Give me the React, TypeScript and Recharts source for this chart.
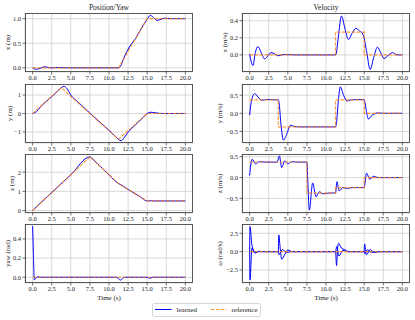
import React from 'react'
import { LineChart, Line, XAxis, YAxis, CartesianGrid } from 'recharts'

// time ticks shared by every panel
const TIME_TICKS = [0, 2.5, 5, 7.5, 10, 12.5, 15, 17.5, 20]

// reference trajectory (position / yaw)
const refPxT = [0, 11.25, 15, 20]
const refPx = [0, 0, 1, 1]
const refPyT = [0, 3.75, 11.25, 15, 20]
const refPy = [0, 1.4, -1.4, 0, 0]
const refPzT = [0, 7.5, 11.25, 15, 20]
const refPz = [0, 2.8, 1.4, 0.5, 0.5]
const refYawT = [0, 20]
const refYaw = [0, 0]

// reference velocity (steps)
const refVxT = [0, 11.25, 11.25, 15, 15, 20]
const refVx = [0, 0, 0.267, 0.267, 0, 0]
const refVyT = [0, 3.75, 3.75, 11.25, 11.25, 15, 15, 20]
const refVy = [0.373, 0.373, -0.373, -0.373, 0.373, 0.373, 0, 0]
const refVzT = [0, 7.5, 7.5, 11.25, 11.25, 15, 15, 20]
const refVz = [0.373, 0.373, -0.373, -0.373, -0.24, -0.24, 0, 0]
const refWT = [0, 20]
const refW = [0, 0]

// learned trajectory
const lPxT = [0, 0.5, 1, 1.5, 2, 2.5, 3, 5, 8, 11.25, 11.5, 12, 12.5, 13, 13.5, 14, 14.5, 15, 15.4, 15.8, 16.3, 16.8, 17.3, 18, 19, 20]
const lPx = [0, -0.03, -0.01, 0.02, 0.01, 0, 0.005, 0, 0, 0, 0.03, 0.22, 0.38, 0.5, 0.6, 0.74, 0.87, 0.99, 1.065, 1.03, 0.965, 0.985, 1.01, 1.0, 1.0, 1.0]
const lPyT = [0, 0.5, 1, 2, 3, 3.75, 4.1, 4.5, 5, 6, 7.5, 9, 10.5, 11.25, 11.6, 12, 12.5, 13.5, 14.5, 15, 15.5, 16, 17, 20]
const lPy = [0, 0.1, 0.35, 0.73, 1.1, 1.4, 1.47, 1.35, 1.0, 0.6, 0.02, -0.54, -1.1, -1.4, -1.48, -1.3, -1.02, -0.6, -0.2, 0.0, 0.07, 0.04, 0, 0]
const lPzT = [0, 1, 2.5, 4, 5, 7.5, 7.8, 8.5, 9.5, 11.25, 11.5, 12.5, 14, 15, 15.4, 16, 20]
const lPz = [0, 0.38, 0.94, 1.5, 1.87, 2.8, 2.72, 2.44, 2.06, 1.41, 1.36, 1.1, 0.74, 0.5, 0.51, 0.5, 0.5]
const lYawT = [0, 0.1, 0.22, 0.4, 0.7, 1, 11, 11.5, 12, 15, 15.3, 15.7, 20]
const lYaw = [0.534, 0.25, -0.028, -0.01, 0.005, 0, 0, -0.03, 0, 0, -0.012, 0, 0]

const lVxT = [0, 0.43, 0.75, 1.08, 1.5, 1.96, 2.4, 2.8, 3.3, 3.7, 4.5, 6, 11.25, 11.35, 11.6, 12.03, 12.5, 12.95, 13.4, 13.9, 14.4, 14.85, 15.3, 15.78, 16.25, 16.73, 17.2, 17.6, 18.1, 18.7, 19.3, 20]
const lVx = [0.01, -0.125, 0.03, 0.097, 0.03, -0.047, -0.01, 0.027, 0.01, -0.01, 0.005, 0, 0, 0.02, 0.2, 0.455, 0.3, 0.18, 0.25, 0.31, 0.28, 0.24, 0.05, -0.17, -0.03, 0.09, 0.02, -0.043, -0.01, 0.027, 0, 0]
const lVyT = [0, 0.2, 0.65, 1.1, 1.6, 2.3, 3, 3.75, 3.85, 4.1, 4.43, 4.9, 5.35, 5.8, 6.5, 11.25, 11.35, 11.6, 11.87, 12.3, 12.74, 13.2, 14, 15, 15.1, 15.3, 15.56, 15.9, 16.3, 16.7, 17.5, 20]
const lVy = [-0.05, 0.3, 0.545, 0.45, 0.36, 0.385, 0.375, 0.375, 0.3, -0.3, -0.74, -0.55, -0.33, -0.36, -0.375, -0.375, -0.3, 0.3, 0.73, 0.5, 0.34, 0.37, 0.38, 0.375, 0.3, 0.05, -0.16, -0.08, -0.02, 0.01, 0, 0]
const lVzT = [0, 0.15, 0.35, 0.74, 1.3, 2, 3.6, 3.9, 4.2, 4.6, 5, 5.5, 6.5, 7.5, 7.6, 7.82, 8.25, 8.7, 9.13, 9.6, 10.5, 11.25, 11.43, 11.73, 12.2, 12.7, 13.5, 15, 15.3, 15.75, 16.2, 16.8, 17.5, 20]
const lVz = [0.05, 0.3, 0.44, 0.33, 0.38, 0.37, 0.37, 0.52, 0.24, 0.4, 0.33, 0.38, 0.37, 0.37, 0.0, -0.78, -0.13, -0.46, -0.34, -0.39, -0.37, -0.37, -0.1, -0.32, -0.24, -0.26, -0.24, -0.24, 0.105, -0.04, 0.03, 0, 0, 0]
const lWaT = [0, 0.05, 0.3, 0.7, 1.2, 2, 3.75, 3.82, 4.0, 4.2, 4.6, 5.0, 5.6, 11.25, 11.38, 11.5, 11.65, 12.0, 12.4, 13, 15, 15.05, 15.3, 15.8, 16.3, 17, 20]
const lWa = [0, 3.41, 0.91, -0.2, 0.05, 0, 0, 2.28, 0.5, -1.04, -0.4, 0.23, 0, 0, -1.9, 0.2, 1.15, 0.5, 0.3, 0, 0, 1.05, -0.45, 0.3, -0.1, 0, 0]
const lWbT = [0, 0.05, 0.3, 0.7, 1.2, 3.75, 3.85, 4.3, 4.8, 5.5, 11.25, 11.4, 11.7, 12.2, 12.8, 15, 15.1, 15.4, 16, 16.6, 20]
const lWb = [0, -3.86, 0.5, -0.1, 0, 0, -0.4, 0.3, -0.1, 0, 0, 0.7, -0.6, 0.2, 0, 0, -0.3, 0.25, -0.1, 0, 0]

const FONT = '"Liberation Serif", "DejaVu Serif", serif'
const BOX_W = 168
const BOX_H = 59
const YW = 24
const XH = 12
const COL_X = [25, 242]
const ROW_Y = [13, 84, 154, 224]

const pts = (t: number[], v: number[]) => t.map((x, i) => ({ t: x, v: v[i] }))
const minus = (s: string) => s.replace('-', '\u2212')
const f1 = (v: number) => minus(v.toFixed(1))
const f0 = (v: number) => minus(v.toFixed(0))

type PanelProps = {
  x: number
  y: number
  domain: [number, number]
  ticks: number[]
  fmt: (v: number) => string
  learned: { t: number; v: number }[][]
  ref: { t: number; v: number }[]
}

function Panel({ x, y, domain, ticks, fmt, learned, ref }: PanelProps) {
  const tickStyle = { fontSize: 6.5, fill: '#222', fontFamily: FONT }
  return (
    <div style={{ position: 'absolute', left: x - YW, top: y }}>
      <LineChart width={BOX_W + YW} height={BOX_H + XH} margin={{ top: 0, right: 0, bottom: 0, left: 0 }}>
        <CartesianGrid stroke="#cfcfcf" strokeWidth={0.8} />
        <XAxis
          type="number"
          dataKey="t"
          domain={[-1, 21]}
          ticks={TIME_TICKS}
          interval={0}
          tickFormatter={f1}
          height={XH}
          tick={tickStyle}
          tickSize={2.5}
          tickMargin={1}
          axisLine={false}
          tickLine={{ stroke: '#333', strokeWidth: 0.7 }}
          allowDataOverflow
        />
        <YAxis
          type="number"
          domain={domain}
          ticks={ticks}
          interval={0}
          tickFormatter={fmt}
          width={YW}
          tick={tickStyle}
          tickSize={2.5}
          tickMargin={1.5}
          axisLine={false}
          tickLine={{ stroke: '#333', strokeWidth: 0.7 }}
          allowDataOverflow
        />
        {learned.map((s, i) => (
          <Line key={i} data={s} dataKey="v" type="monotone" stroke="#0000ff" strokeWidth={1} dot={false} isAnimationActive={false} />
        ))}
        <Line data={ref} dataKey="v" type="linear" stroke="#ff7f0e" strokeOpacity={0.8} strokeWidth={1.2} strokeDasharray="3.5 1.5" dot={false} isAnimationActive={false} />
      </LineChart>
    </div>
  )
}

const panels: (PanelProps & { label: string; labelX: number })[] = [
  { x: COL_X[0], y: ROW_Y[0], domain: [-0.085, 1.115], ticks: [0, 0.5, 1], fmt: f1, learned: [pts(lPxT, lPx)], ref: pts(refPxT, refPx), label: 'x (m)', labelX: 7.5 },
  { x: COL_X[0], y: ROW_Y[1], domain: [-1.6, 1.6], ticks: [-1, 0, 1], fmt: f0, learned: [pts(lPyT, lPy)], ref: pts(refPyT, refPy), label: 'y (m)', labelX: 10 },
  { x: COL_X[0], y: ROW_Y[2], domain: [-0.13, 2.95], ticks: [0, 1, 2], fmt: f0, learned: [pts(lPzT, lPz)], ref: pts(refPzT, refPz), label: 'z (m)', labelX: 11.5 },
  { x: COL_X[0], y: ROW_Y[3], domain: [-0.06, 0.556], ticks: [0, 0.2, 0.4], fmt: f1, learned: [pts(lYawT, lYaw)], ref: pts(refYawT, refYaw), label: 'yaw (rad)', labelX: 7.5 },
  { x: COL_X[1], y: ROW_Y[0], domain: [-0.2, 0.49], ticks: [0, 0.2, 0.4], fmt: f1, learned: [pts(lVxT, lVx)], ref: pts(refVxT, refVx), label: 'x (m/s)', labelX: 225 },
  { x: COL_X[1], y: ROW_Y[1], domain: [-0.82, 0.81], ticks: [-0.5, 0, 0.5], fmt: f1, learned: [pts(lVyT, lVy)], ref: pts(refVyT, refVy), label: 'y (m/s)', labelX: 220 },
  { x: COL_X[1], y: ROW_Y[2], domain: [-0.85, 0.565], ticks: [-0.5, 0, 0.5], fmt: f1, learned: [pts(lVzT, lVz)], ref: pts(refVzT, refVz), label: 'z (m/s)', labelX: 220 },
  { x: COL_X[1], y: ROW_Y[3], domain: [-4.27, 3.77], ticks: [-2.5, 0, 2.5], fmt: f1, learned: [pts(lWaT, lWa), pts(lWbT, lWb)], ref: pts(refWT, refW), label: '\u03c9 (rad/s)', labelX: 220 },
]

export default function App() {
  return (
    <div style={{ position: 'absolute', left: 0, top: 0, width: 415, height: 320, background: '#fff', overflow: 'hidden', fontFamily: FONT }}>
      {panels.map((p, i) => (
        <Panel key={i} {...p} />
      ))}
      <svg width={415} height={320} style={{ position: 'absolute', left: 0, top: 0, pointerEvents: 'none' }}>
        {panels.map((p, i) => (
          <g key={i}>
            <rect x={p.x + 0.5} y={p.y + 0.5} width={BOX_W - 1} height={BOX_H - 1} fill="none" stroke="#333" strokeWidth={0.8} />
            <text
              x={p.labelX}
              y={p.y + BOX_H / 2}
              transform={`rotate(-90 ${p.labelX} ${p.y + BOX_H / 2})`}
              textAnchor="middle"
              dominantBaseline="central"
              fontSize={7}
              fill="#222"
              fontFamily={FONT}
            >
              {p.label}
            </text>
          </g>
        ))}
        <text x={COL_X[0] + BOX_W / 2} y={7} textAnchor="middle" dominantBaseline="central" fontSize={7.5} fill="#222" fontFamily={FONT}>Position/Yaw</text>
        <text x={COL_X[1] + BOX_W / 2} y={7} textAnchor="middle" dominantBaseline="central" fontSize={7.5} fill="#222" fontFamily={FONT}>Velocity</text>
        <text x={COL_X[0] + BOX_W / 2} y={297.5} textAnchor="middle" dominantBaseline="central" fontSize={7} fill="#222" fontFamily={FONT}>Time (s)</text>
        <text x={COL_X[1] + BOX_W / 2} y={297.5} textAnchor="middle" dominantBaseline="central" fontSize={7} fill="#222" fontFamily={FONT}>Time (s)</text>
        <rect x={152.5} y={303.5} width={108} height={13} rx={2} fill="#fff" stroke="#cccccc" strokeWidth={0.8} />
        <line x1={155} y1={309.5} x2={171.5} y2={309.5} stroke="#0000ff" strokeWidth={1} />
        <text x={176.5} y={309.5} dominantBaseline="central" fontSize={7} fill="#222" fontFamily={FONT}>learned</text>
        <line x1={211} y1={309.5} x2={226.5} y2={309.5} stroke="#ff7f0e" strokeOpacity={0.8} strokeWidth={1.2} strokeDasharray="3.5 1.5" />
        <text x={231.5} y={309.5} dominantBaseline="central" fontSize={7} fill="#222" fontFamily={FONT}>reference</text>
      </svg>
    </div>
  )
}
